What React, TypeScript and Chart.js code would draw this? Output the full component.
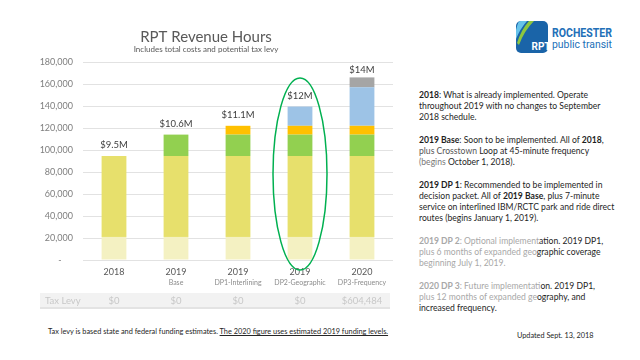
import React, { useEffect, useRef } from "react";
import { Chart, registerables } from "chart.js";
Chart.register(...registerables);

const categories = ["2018", "2019", "2019", "2019", "2020"];
const subLabels = ["", "Base", "DP1-Interlining", "DP2-Geographic", "DP3-Frequency"];
const costLabels = ["$9.5M", "$10.6M", "$11.1M", "$12M", "$14M"];
const taxLevy = ["$0", "$0", "$0", "$0", "$604,484"];
const baseLight = [21000, 21000, 21000, 21000, 21000];
const existing = [73500, 73500, 73500, 73500, 73500];
const crosstown = [0, 19500, 19500, 19500, 19500];
const interlining = [0, 0, 8000, 8000, 8000];
const geographic = [0, 0, 0, 17500, 35000];
const frequency = [0, 0, 0, 0, 9000];
const highlightIndex = 3;

const FONT = "Lato, 'Open Sans', sans-serif";

const overlay = {
  id: "overlay",
  afterDatasetsDraw(chart: any) {
    const ctx = chart.ctx;
    const x = chart.scales.x;
    const y = chart.scales.y;
    ctx.save();
    ctx.font = `9.5px ${FONT}`;
    ctx.fillStyle = "#404040";
    ctx.textAlign = "center";
    ctx.textBaseline = "bottom";
    categories.forEach((_, i) => {
      let total = 0;
      chart.data.datasets.forEach((d: any) => (total += d.data[i] || 0));
      const off = i === 4 ? 3 : 6;
      ctx.fillText(costLabels[i], x.getPixelForValue(i), y.getPixelForValue(total) - off);
    });
    ctx.restore();
  },
  afterDraw(chart: any) {
    const ctx = chart.ctx;
    const x = chart.scales.x;
    const area = chart.chartArea;
    ctx.save();
    ctx.textAlign = "center";
    ctx.textBaseline = "middle";
    ctx.fillStyle = "#595959";
    ctx.font = `15px ${FONT}`;
    ctx.fillText("RPT Revenue Hours", 206, 37);
    ctx.font = `8px ${FONT}`;
    ctx.fillText("Includes total costs and potential tax levy", 206, 49.5);
    ctx.font = `7px ${FONT}`;
    ctx.fillStyle = "#8C8C8C";
    subLabels.forEach((s, i) => {
      if (s) ctx.fillText(s, x.getPixelForValue(i), area.bottom + 22.5);
    });
    const top = area.bottom + 33;
    ctx.fillStyle = "#F2F2F2";
    ctx.fillRect(40, top, area.right - 3 - 40, 16);
    ctx.fillStyle = "#E3E3E3";
    ctx.fillRect(40, top + 14, area.right - 3 - 40, 2);
    ctx.fillStyle = "#C8C8C8";
    ctx.font = `9.5px ${FONT}`;
    ctx.textAlign = "left";
    ctx.fillText("Tax Levy", 45, top + 8);
    ctx.textAlign = "center";
    taxLevy.forEach((t, i) => ctx.fillText(t, x.getPixelForValue(i), top + 8));
    ctx.strokeStyle = "#00B050";
    ctx.lineWidth = 1.5;
    ctx.beginPath();
    ctx.ellipse(x.getPixelForValue(highlightIndex), 174, 27, 96, 0, 0, Math.PI * 2);
    ctx.stroke();
    ctx.restore();
  },
};

function ChartBox() {
  const ref = useRef<HTMLCanvasElement>(null);
  useEffect(() => {
    const mk = (label: string, data: number[], color: string) => ({
      label,
      data,
      backgroundColor: color,
      borderWidth: 0,
      barPercentage: 0.4,
      categoryPercentage: 1,
    });
    const chart = new Chart(ref.current as HTMLCanvasElement, {
      type: "bar",
      data: {
        labels: categories,
        datasets: [
          mk("Base", baseLight, "#F4F1C2"),
          mk("Existing", existing, "#E7E06C"),
          mk("Crosstown", crosstown, "#92D050"),
          mk("Interlining", interlining, "#FFC000"),
          mk("Geographic", geographic, "#9DC3E6"),
          mk("Frequency", frequency, "#A5A5A5"),
        ],
      },
      options: {
        animation: false,
        responsive: false,
        layout: { padding: { top: 62, left: 36, right: 7, bottom: 0 } },
        plugins: { legend: { display: false }, tooltip: { enabled: false } },
        scales: {
          x: {
            stacked: true,
            grid: { display: false, drawTicks: false },
            border: { display: false },
            ticks: { color: "#595959", font: { family: FONT, size: 9 }, padding: 7, maxRotation: 0, autoSkip: false },
            afterFit: (s: any) => {
              s.height = 60;
            },
          },
          y: {
            stacked: true,
            min: 0,
            max: 180000,
            ticks: {
              stepSize: 20000,
              color: "#7F7F7F",
              font: { family: FONT, size: 9 },
              padding: 10,
              callback: (v: any) => (v === 0 ? "-     " : Number(v).toLocaleString("en-US")),
            },
            grid: { color: "#E2E2E2", drawTicks: false },
            border: { display: false },
            afterFit: (s: any) => {
              s.width = 47;
            },
          },
        },
      },
      plugins: [overlay],
    });
    return () => chart.destroy();
  }, []);
  return <canvas ref={ref} width={400} height={320} style={{ position: "absolute", left: 0, top: 0, width: 400, height: 320 }} />;
}

const dark = "#1E1E1E";
const faded = "#A8A8A8";

export default function App() {
  const p: React.CSSProperties = { margin: 0, whiteSpace: "nowrap" };
  return (
    <div style={{ position: "absolute", left: 0, top: 0, width: 640, height: 360, background: "#fff", overflow: "hidden", fontFamily: FONT }}>
      <ChartBox />
      <div style={{ position: "absolute", left: 48, top: 327, fontSize: 7.35, color: "#262626", whiteSpace: "nowrap" }}>
        Tax levy is based state and federal funding estimates.{" "}
        <span style={{ textDecoration: "underline" }}>The 2020 figure uses estimated 2019 funding levels.</span>
      </div>
      <svg style={{ position: "absolute", left: 510, top: 15 }} width={110} height={45}>
        <defs>
          <clipPath id="ic">
            <rect x={6} y={6} width={32} height={32} rx={5} />
          </clipPath>
        </defs>
        <rect x={6} y={6} width={32} height={32} rx={5} fill="#1A64A8" />
        <g clipPath="url(#ic)">
          <path d="M9 6 L17 6 Q10 14 6 24 L6 15 Q7 10 9 6 Z" fill="#67C3EA" />
          <path d="M19 6 L24 6 Q14 16 9 30 L7 28 Q11 15 19 6 Z" fill="#8DC63F" />
        </g>
        <text x={31} y={35} textAnchor="middle" fontFamily="Roboto, sans-serif" fontWeight="bold" fontSize={10} fill="#fff">RPT</text>
        <text x={42} y={22} fontFamily="Roboto, sans-serif" fontWeight="bold" fontSize={12} fill="#2270B8" textLength={60} lengthAdjust="spacingAndGlyphs">ROCHESTER</text>
        <text x={42} y={33} fontFamily="Roboto, sans-serif" fontSize={11} fill="#2270B8" textLength={60} lengthAdjust="spacingAndGlyphs">public transit</text>
      </svg>
      <div style={{ position: "absolute", left: 419, top: 90, fontSize: 8.6, lineHeight: "11px", color: dark }}>
        <p style={p}><b>2018</b>: What is already implemented. Operate<br />throughout 2019 with no changes to September<br />2018 schedule.</p>
        <p style={{ ...p, marginTop: 12 }}><b>2019 Base</b>: Soon to be implemented. All of <b>2018</b>,<br /><span style={{ color: "#555" }}>plus Crosstown</span> Loop at 45-minute frequency<br /><span style={{ color: "#777" }}>(begins</span> October 1, 2018).</p>
        <p style={{ ...p, marginTop: 12 }}><b>2019 DP 1</b>: Recommended to be implemented in<br />decision packet. All of <b>2019 Base</b>, plus 7-minute<br />service on interlined IBM/RCTC park and ride direct<br />routes (begins January 1, 2019).</p>
        <p style={{ ...p, marginTop: 12 }}><span style={{ color: faded }}><b>2019 DP 2</b>: Optional implement</span>ation. 2019 DP1,<br /><span style={{ color: faded }}>plus 6 months of expanded geo</span>graphic coverage<br /><span style={{ color: faded }}>beginning July 1, 2019.</span></p>
        <p style={{ ...p, marginTop: 12 }}><span style={{ color: faded }}><b>2020 DP 3</b>: Future implementati</span>on. 2019 DP1,<br /><span style={{ color: faded }}>plus 12 months of expanded ge</span>ography, and<br />increased frequency.</p>
      </div>
      <div style={{ position: "absolute", left: 517, top: 331, fontSize: 7.3, color: "#262626", whiteSpace: "nowrap" }}>Updated Sept. 13, 2018</div>
    </div>
  );
}
